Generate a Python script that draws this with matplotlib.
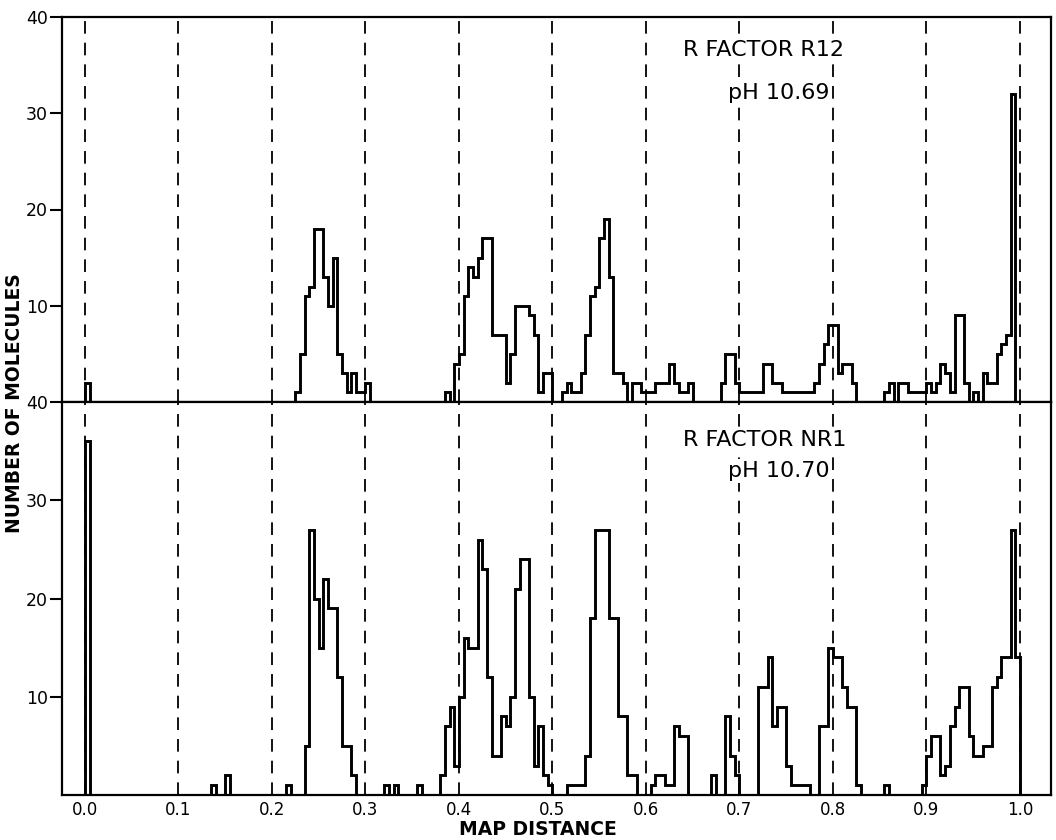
import numpy as np
import matplotlib
matplotlib.use("Agg")
import matplotlib.pyplot as plt

# ---------------- data (map distance histograms, bin width 0.005) ----------------
BIN_WIDTH = 0.005
N_BINS = 200

# R factor R12, pH 10.69 : runs of consecutive bins (start of run, counts)
top_run_starts = [0.000, 0.225, 0.385, 0.510, 0.680, 0.855]
top_run_counts = [
    [2],
    [1, 5, 11, 12, 18, 18, 13, 10, 15, 5, 3, 1, 3, 1, 1, 2],
    [1, 0, 4, 5, 11, 14, 13, 15, 17, 17, 7, 7, 7, 2, 5, 10, 10, 10, 9, 7, 1, 3, 3],
    [1, 2, 1, 1, 3, 7, 11, 12, 17, 19, 13, 3, 3, 2, 0, 2, 2, 1, 1, 1, 2, 2, 2, 4, 2, 1, 1, 2],
    [2, 5, 5, 2, 1, 1, 1, 1, 1, 4, 4, 2, 2, 1, 1, 1, 1, 1, 1, 1, 2, 4, 6, 8, 8, 3, 4, 4, 2],
    [1, 2, 0, 2, 2, 1, 1, 1, 1, 2, 1, 2, 4, 3, 1, 9, 9, 2, 0, 1, 0, 3, 2, 2, 5, 6, 7, 32],
]

# R factor NR1, pH 10.70
bot_run_starts = [0.000, 0.135, 0.215, 0.320, 0.355, 0.380, 0.515, 0.605, 0.670, 0.720, 0.855, 0.895]
bot_run_counts = [
    [36],
    [1, 0, 0, 2],
    [1, 0, 0, 0, 5, 27, 20, 15, 22, 19, 19, 12, 5, 5, 2],
    [1, 0, 1],
    [1],
    [2, 7, 9, 3, 10, 16, 15, 15, 26, 23, 12, 4, 4, 8, 7, 10, 21, 24, 24, 10, 3, 7, 2, 1],
    [1, 1, 1, 1, 4, 18, 27, 27, 27, 18, 18, 8, 8, 2, 2],
    [1, 2, 2, 1, 1, 7, 6, 6],
    [2, 0, 0, 8, 4, 2],
    [11, 11, 14, 7, 9, 9, 3, 1, 1, 1, 1, 0, 0, 7, 7, 15, 14, 14, 11, 9, 9, 1],
    [1],
    [1, 4, 6, 6, 2, 3, 7, 9, 11, 11, 6, 4, 4, 5, 5, 11, 12, 14, 14, 27, 14],
]

grid_positions = [0.0, 0.1, 0.2, 0.3, 0.4, 0.5, 0.6, 0.7, 0.8, 0.9, 1.0]
x_tick_labels = ["0.0", "0.1", "0.2", "0.3", "0.4", "0.5", "0.6", "0.7", "0.8", "0.9", "1.0"]
y_ticks = [10, 20, 30, 40]
top_title = ["R FACTOR R12", "pH 10.69"]
bot_title = ["R FACTOR NR1", "pH 10.70"]


def build_counts(starts, runs):
    counts = np.zeros(N_BINS)
    for s, vals in zip(starts, runs):
        i = int(round(s / BIN_WIDTH))
        counts[i:i + len(vals)] = vals
    return counts


edges = np.arange(N_BINS + 1) * BIN_WIDTH
top_counts = build_counts(top_run_starts, top_run_counts)
bot_counts = build_counts(bot_run_starts, bot_run_counts)

# ---------------- figure ----------------
fig = plt.figure(figsize=(10.56, 8.4), dpi=100)
left, width = 62 / 1056, (1051 - 62) / 1056
ax_top = fig.add_axes([left, 1 - 402 / 840, width, (402 - 17) / 840])
ax_bot = fig.add_axes([left, 1 - 795 / 840, width, (795 - 402) / 840])

for ax, counts in ((ax_top, top_counts), (ax_bot, bot_counts)):
    ax.set_xlim(-0.0246, 1.0332)
    ax.set_ylim(0, 40)
    for g in grid_positions:
        ax.axvline(g, color="black", lw=1.3, ls=(0, (7, 5)), zorder=1)
    ax.stairs(counts, edges, baseline=0, color="black", lw=2.1, zorder=3)
    for sp in ax.spines.values():
        sp.set_linewidth(1.6)
    ax.set_yticks(y_ticks)
    ax.tick_params(axis="y", direction="out", length=9, width=1.5,
                   labelsize=12.5, pad=1)

ax_top.set_xticks([])
ax_bot.set_xticks(grid_positions)
ax_bot.set_xticklabels(x_tick_labels)
ax_bot.tick_params(axis="x", length=0, labelsize=12, pad=4)

box = dict(facecolor="white", edgecolor="none", pad=1.5)
fig.text(0.647, 0.940, top_title[0], fontsize=16, ha="left", va="center", bbox=box, zorder=5)
fig.text(0.689, 0.889, top_title[1], fontsize=16, ha="left", va="center", bbox=box, zorder=5)
fig.text(0.647, 0.476, bot_title[0], fontsize=16, ha="left", va="center", bbox=box, zorder=5)
fig.text(0.689, 0.439, bot_title[1], fontsize=16, ha="left", va="center", bbox=box, zorder=5)

fig.text(0.0135, 0.52, "NUMBER OF MOLECULES", rotation=90, fontsize=13.5,
         fontweight="bold", ha="center", va="center")
fig.text(0.509, 0.012, "MAP DISTANCE", fontsize=13.5, fontweight="bold",
         ha="center", va="center")

fig.savefig("out.png", dpi=100)
